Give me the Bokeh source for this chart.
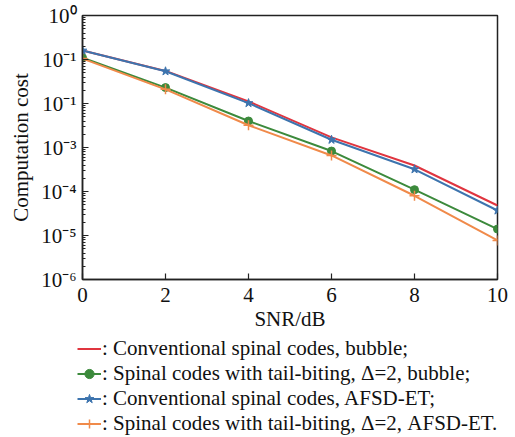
from bokeh.plotting import figure
from bokeh.layouts import column, row
from bokeh.models import Legend, LegendItem, CustomJSTickFormatter, FixedTicker, Range1d
from bokeh.embed import file_html
from bokeh.resources import INLINE

snr = [0, 2, 4, 6, 8, 10]
conv_bubble = [0.16, 0.055, 0.0112, 1.7e-3, 3.9e-4, 4.8e-5]
tb_bubble = [0.11, 0.023, 4.0e-3, 8.3e-4, 1.1e-4, 1.4e-5]
conv_afsd = [0.16, 0.054, 0.0102, 1.5e-3, 3.2e-4, 3.7e-5]
tb_afsd = [0.105, 0.021, 3.2e-3, 6.6e-4, 8.0e-5, 7.7e-6]

x_ticks = [0, 2, 4, 6, 8, 10]
y_tick_exps = [0, -1, -2, -3, -4, -5, -6]
y_tick_labels = ["10⁰", "10⁻¹", "10⁻¹", "10⁻³", "10⁻⁴", "10⁻⁵", "10⁻⁶"]

labels = [
    ": Conventional spinal codes, bubble;",
    ": Spinal codes with tail-biting, Δ=2, bubble;",
    ": Conventional spinal codes, AFSD-ET;",
    ": Spinal codes with tail-biting, Δ=2, AFSD-ET.",
]
colors = ["#e0353f", "#3c8a3c", "#3d74ae", "#f08a4a"]

FONT = "Liberation Serif"

p = figure(width=515, height=337, y_axis_type="log", output_backend="svg",
           toolbar_location=None, x_range=Range1d(0, 10), y_range=Range1d(1e-6, 1),
           min_border_left=82, min_border_right=18, min_border_top=15, min_border_bottom=58)
p.grid.visible = False
p.outline_line_color = "#222222"
p.outline_line_width = 1.5
p.background_fill_color = "white"
p.border_fill_color = "white"

def draw(fig, ys):
    out = []
    out.append([fig.line(snr, ys[0], line_color=colors[0], line_width=2)])
    out.append([fig.line(snr, ys[1], line_color=colors[1], line_width=2),
                fig.scatter(snr, ys[1], marker="circle", size=8, color=colors[1])])
    out.append([fig.line(snr, ys[2], line_color=colors[2], line_width=2),
                fig.scatter(snr, ys[2], marker="star", size=9, color=colors[2])])
    out.append([fig.line(snr, ys[3], line_color=colors[3], line_width=2),
                fig.scatter(snr, ys[3], marker="cross", size=10, line_color=colors[3], line_width=1.5)])
    return out

series = [conv_bubble, tb_bubble, conv_afsd, tb_afsd]
draw(p, series)

# axes
p.xaxis.ticker = FixedTicker(ticks=x_ticks)
p.xaxis.major_tick_in = 6
p.xaxis.major_tick_out = 0
p.xaxis.axis_label = "SNR/dB"

p.yaxis.ticker = FixedTicker(ticks=[10.0 ** e for e in y_tick_exps],
                             minor_ticks=[k * 10.0 ** e for e in range(-6, 0) for k in range(2, 10)])
p.yaxis.formatter = CustomJSTickFormatter(args=dict(exps=y_tick_exps, labels=y_tick_labels), code="""
const e = Math.round(Math.log10(tick));
const i = exps.indexOf(e);
return i >= 0 ? labels[i] : "";
""")
p.yaxis.major_tick_in = 6
p.yaxis.major_tick_out = 0
p.yaxis.minor_tick_in = 3
p.yaxis.minor_tick_out = 0
p.yaxis.axis_label = "Computation cost"

for ax in (p.xaxis[0], p.yaxis[0]):
    ax.axis_line_color = "#222222"
    ax.axis_line_width = 1.5
    ax.major_tick_line_color = "#222222"
    ax.major_tick_line_width = 1.2
    ax.minor_tick_line_color = "#222222" if ax is p.yaxis[0] else None
    ax.major_label_text_font = FONT
    ax.major_label_text_font_size = "21px"
    ax.major_label_text_color = "#111111"
    ax.axis_label_text_font = FONT
    ax.axis_label_text_font_size = "21px"
    ax.axis_label_text_font_style = "normal"
    ax.axis_label_text_color = "#111111"
p.xaxis.major_label_standoff = 8
p.xaxis.axis_label_standoff = 2
p.yaxis.major_label_standoff = 6
p.yaxis.axis_label_standoff = 5

# legend panel below the plot (same series drawn outside its visible range, used as legend glyphs)
q = figure(width=515, height=100, output_backend="svg", toolbar_location=None,
           x_axis_type=None, y_axis_type=None, x_range=Range1d(0, 10), y_range=Range1d(10, 11),
           min_border=0)
q.grid.visible = False
q.outline_line_color = None
q.background_fill_color = "white"
q.border_fill_color = "white"
proxies = draw(q, series)

legend = Legend(items=[LegendItem(label=labels[i], renderers=proxies[i]) for i in range(4)],
                location=(77, 1))
legend.label_text_font = FONT
legend.label_text_font_size = "21px"
legend.label_text_color = "#111111"
legend.glyph_width = 24
legend.glyph_height = 23
legend.label_height = 23
legend.label_standoff = 1
legend.spacing = 0
legend.padding = 0
legend.margin = 0
legend.border_line_color = None
legend.background_fill_alpha = 0
q.add_layout(legend, "center")

open("out.html", "w").write(file_html(column(p, row(q), spacing=0), INLINE))
